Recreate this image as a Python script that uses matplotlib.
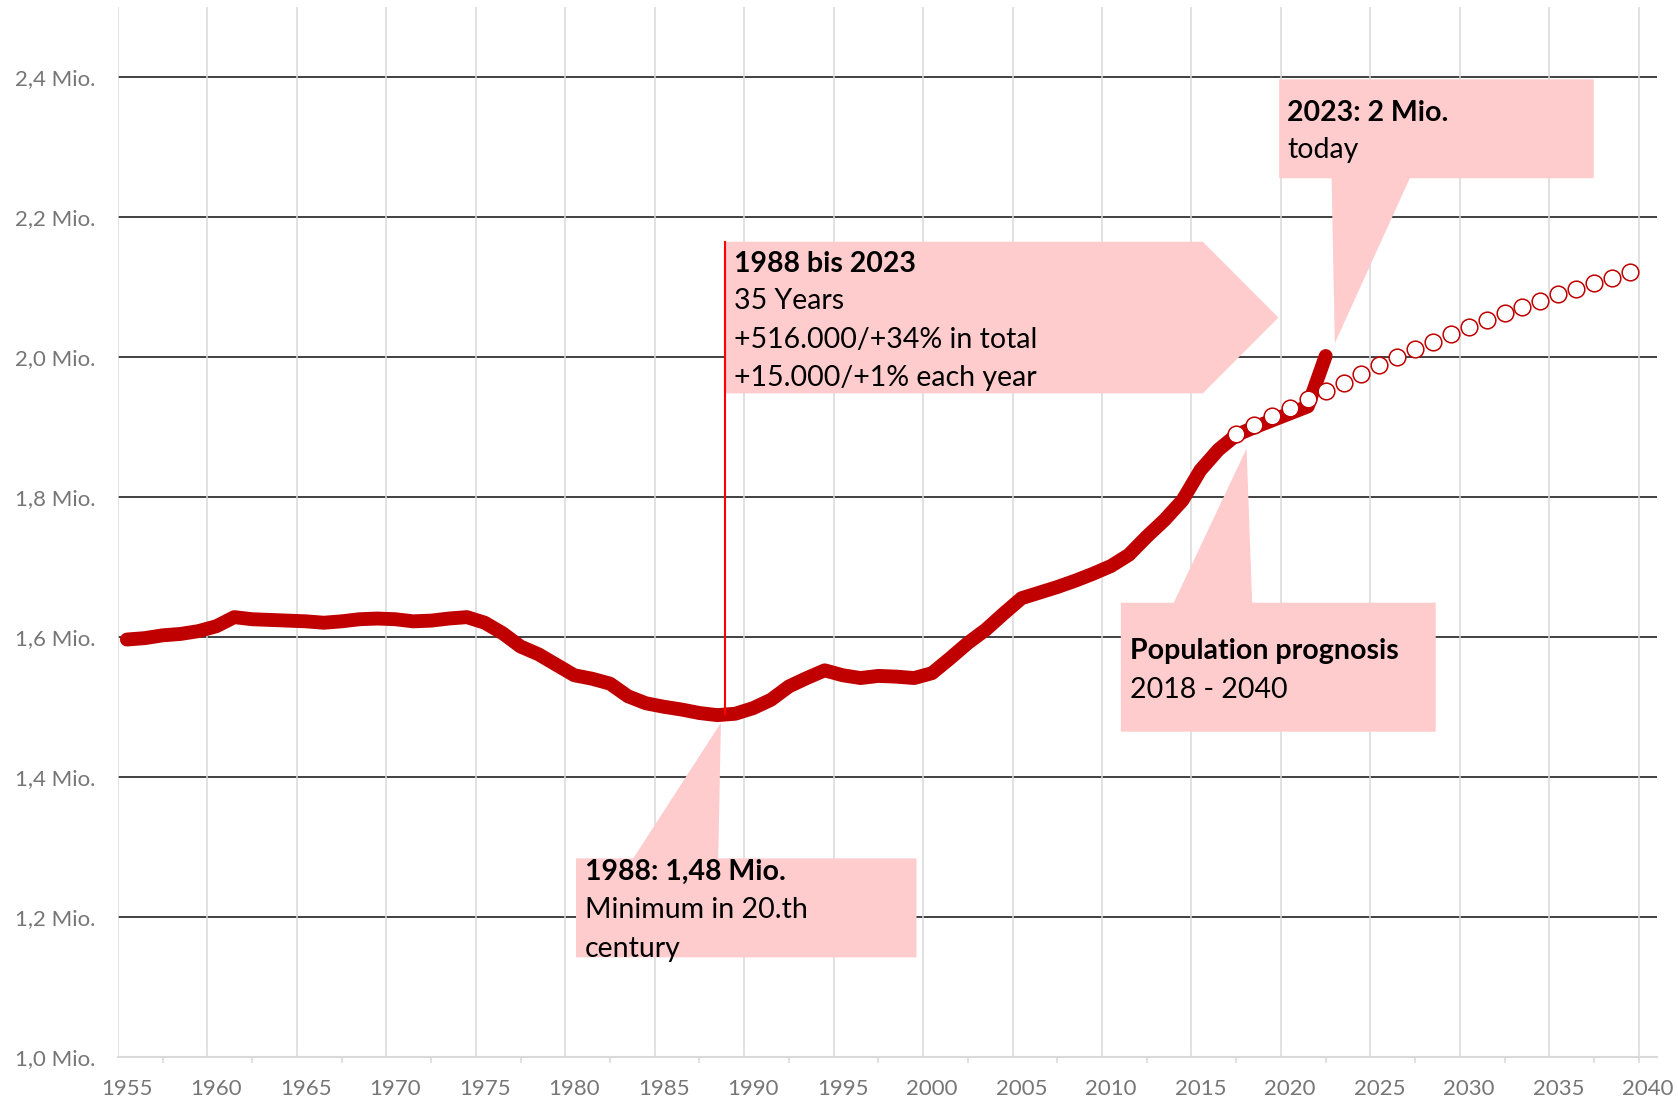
import numpy as np
import matplotlib
matplotlib.use("Agg")
import matplotlib.pyplot as plt
from matplotlib.patches import Polygon

plt.rcParams['font.family'] = ['Lato', 'DejaVu Sans']

# Population in millions
hist_years = np.arange(1955, 2023)
hist_pop = [
    1.596, 1.598, 1.602, 1.604, 1.608, 1.615, 1.628, 1.625, 1.624, 1.623,  # 1955-64
    1.622, 1.620, 1.622, 1.625, 1.626, 1.625, 1.622, 1.623, 1.626, 1.628,  # 1965-74
    1.620, 1.605, 1.586, 1.575, 1.560, 1.545, 1.540, 1.533, 1.515, 1.505,  # 1975-84
    1.500, 1.496, 1.491, 1.488, 1.490, 1.498, 1.510, 1.529, 1.541, 1.552,  # 1985-94
    1.545, 1.541, 1.544, 1.543, 1.541, 1.548, 1.569, 1.591, 1.610, 1.633,  # 1995-2004
    1.655, 1.663, 1.671, 1.680, 1.690, 1.701, 1.717, 1.743, 1.767, 1.795,  # 2005-14
    1.838, 1.867, 1.888, 1.899, 1.909, 1.919, 1.929, 2.001,                # 2015-22
]

prog_years = np.arange(2018, 2041)
prog_pop = [
    1.890, 1.902, 1.916, 1.927, 1.940, 1.951, 1.963, 1.975, 1.988, 2.000,
    2.011, 2.021, 2.032, 2.042, 2.052, 2.062, 2.071, 2.080, 2.089, 2.097,
    2.105, 2.113, 2.121,
]
# the source chart draws each forecast point one category to the left
PROG_SHIFT = -1

y_ticks = [1.0, 1.2, 1.4, 1.6, 1.8, 2.0, 2.2, 2.4]
x_label_years = np.arange(1955, 2041, 5)

RED = '#c00000'
PINK = '#ffccce'
GREY_TXT = '#767676'
FONT_SIZE = 20.5
TICK_SIZE = 16

fig = plt.figure(figsize=(16.78, 11.01), dpi=100)
ax = fig.add_axes([0.0703, 0.0402, 0.9170, 0.9537])
ax.set_xlim(1954.5, 2040.5)
ax.set_ylim(1.0, 2.5)

for s in ('top', 'right', 'left'):
    ax.spines[s].set_visible(False)
ax.spines['bottom'].set_color('#d9d9d9')
ax.spines['bottom'].set_linewidth(1.5)

# gridlines: dark horizontal, light vertical between the year categories
for v in y_ticks[1:]:
    ax.axhline(v, color='#404040', lw=1.4, zorder=1)
for gx in np.arange(1954.5, 2040, 5):
    ax.axvline(gx, color='#d9d9d9', lw=1.1, zorder=1.5)

ax.set_yticks(y_ticks)
ax.set_yticklabels([f"{v:.1f}".replace('.', ',') + " Mio." for v in y_ticks])
ax.set_xticks(x_label_years)
ax.set_xticklabels([str(y) for y in x_label_years])
ax.set_xticks(list(np.arange(1957, 2040, 5)) + [2039.5], minor=True)
ax.tick_params(axis='y', length=0, pad=16, labelsize=TICK_SIZE,
               labelcolor=GREY_TXT)
ax.tick_params(axis='x', which='major', length=0, pad=16, labelsize=TICK_SIZE,
               labelcolor=GREY_TXT)
ax.tick_params(axis='x', which='minor', length=4, width=1.1, color='#d9d9d9')


def callout(verts, lines, tx, baselines):
    ax.add_patch(Polygon(verts, closed=True, facecolor=PINK, edgecolor='none',
                         zorder=3))
    for i, (txt, yb) in enumerate(zip(lines, baselines)):
        ax.text(tx, yb, txt, fontsize=FONT_SIZE, va='baseline', ha='left',
                fontweight='bold' if i == 0 else 'normal', color='black',
                zorder=7)


# 1988 bis 2023 (arrow shaped box)
callout([(1988.42, 2.1643), (2015.13, 2.1643), (2019.36, 2.056),
         (2015.13, 1.9477), (1988.42, 1.9477)],
        ["1988 bis 2023", "35 Years", "+516.000/+34% in total",
         "+15.000/+1% each year"],
        1988.91, [2.1214, 2.0677, 2.0120, 1.9581])

# 2023: 2 Mio.
callout([(2019.40, 2.3963), (2036.98, 2.3963), (2036.98, 2.2549),
         (2026.70, 2.2549), (2022.51, 2.0191), (2022.33, 2.2549),
         (2019.40, 2.2549)],
        ["2023: 2 Mio.", "today"],
        2019.85, [2.3367, 2.2834])

# Population prognosis
callout([(2010.55, 1.4643), (2028.15, 1.4643), (2028.15, 1.6486),
         (2017.89, 1.6486), (2017.58, 1.8691), (2013.51, 1.6486),
         (2010.55, 1.6486)],
        ["Population prognosis", "2018 - 2040"],
        2011.05, [1.5677, 1.5120])

# 1988 minimum
callout([(1980.10, 1.1420), (1999.13, 1.1420), (1999.13, 1.2834),
         (1988.05, 1.2834), (1988.20, 1.4771), (1983.30, 1.2834),
         (1980.10, 1.2834)],
        ["1988: 1,48 Mio.", "Minimum in 20.th", "century"],
        1980.60, [1.2524, 1.1977, 1.1429])

ax.plot([1988.42, 1988.42], [1.490, 2.1643], color='#ff0000', lw=1.5,
        zorder=6)

ax.plot(hist_years, hist_pop, color=RED, lw=10, solid_capstyle='round',
        solid_joinstyle='round', zorder=4)
ax.plot(prog_years + PROG_SHIFT, prog_pop, linestyle='none', marker='o',
        markersize=12, markerfacecolor='white', markeredgecolor=RED,
        markeredgewidth=1.1, zorder=5)

fig.savefig('out.png', dpi=100)
